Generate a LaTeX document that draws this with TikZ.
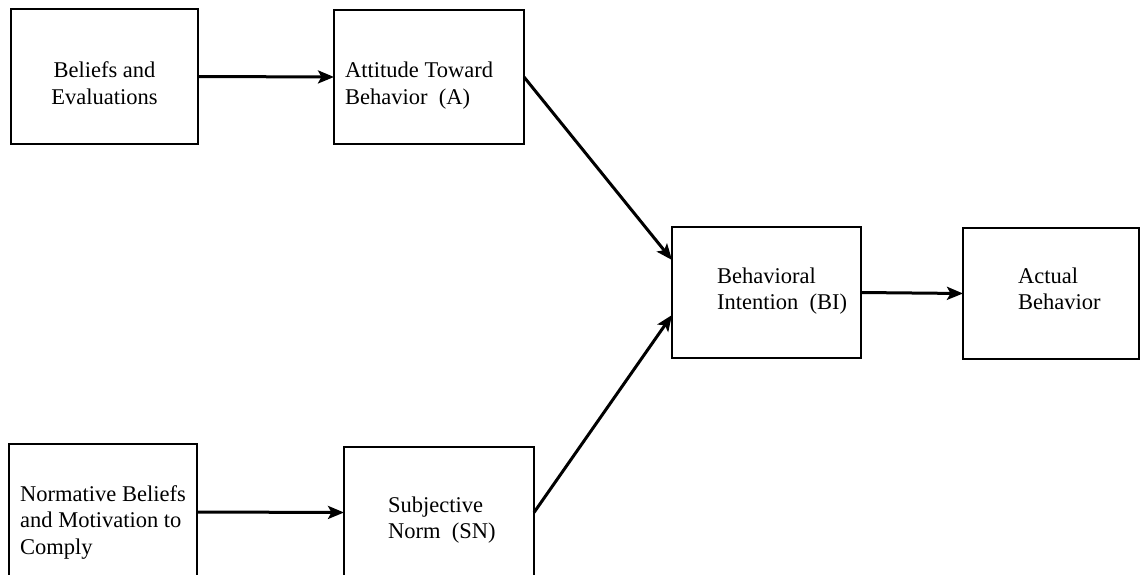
\documentclass[tikz,border=0pt]{standalone}
\usepackage{fontspec}
\setmainfont{Liberation Serif}
\usetikzlibrary{arrows.meta}
\begin{document}
\begin{tikzpicture}[x=1pt,y=-1pt,
  box/.style={draw, line width=2.6pt, inner sep=0pt, outer sep=0pt, anchor=north west},
  lbl/.style={inner sep=0pt, font=\fontsize{22.5pt}{26.5pt}\selectfont},
  arr/.style={line width=3pt, -{Stealth[length=16pt,width=13pt,inset=3.5pt]}}]
\useasboundingbox (0,0) rectangle (1140,575);
\clip (0,0) rectangle (1140,575);
% boxes
\node[box, minimum width=187pt, minimum height=135pt] (bel) at (11,9) {};
\node[box, minimum width=190pt, minimum height=134pt] (att) at (334,10) {};
\node[box, minimum width=189pt, minimum height=131pt] (bi) at (672,227) {};
\node[box, minimum width=176pt, minimum height=131pt] (act) at (963,228) {};
\node[box, minimum width=188pt, minimum height=136pt] (norm) at (9,444) {};
\node[box, minimum width=190pt, minimum height=131pt] (subj) at (344,447) {};
% labels
\node[lbl, anchor=base] (belt) at (104.5,78) {\begin{tabular}[t]{@{}c@{}}Beliefs and\\Evaluations\end{tabular}};
\node[lbl, anchor=base west] (attt) at (345,78) {\begin{tabular}[t]{@{}l@{}}Attitude Toward\\Behavior\ \ (A)\end{tabular}};
\node[lbl, anchor=base west] (bit) at (717,283) {\begin{tabular}[t]{@{}l@{}}Behavioral\\Intention\ \ (BI)\end{tabular}};
\node[lbl, anchor=base west] (actt) at (1018,283) {\begin{tabular}[t]{@{}l@{}}Actual\\Behavior\end{tabular}};
\node[lbl, anchor=base west] (normt) at (20,501) {\begin{tabular}[t]{@{}l@{}}Normative Beliefs\\and Motivation to\\Comply\end{tabular}};
\node[lbl, anchor=base west] (subjt) at (388,512) {\begin{tabular}[t]{@{}l@{}}Subjective\\Norm\ \ (SN)\end{tabular}};
% connectors
\draw[arr] (bel.east) -- (att.west);
\draw[arr] (att.east) -- ([yshift=32.5pt]bi.west);
\draw[arr] (subj.east) -- ([yshift=-22.5pt]bi.west);
\draw[arr] (norm.east) -- (subj.west);
\draw[arr] (bi.east) -- (act.west);
\end{tikzpicture}
\end{document}
